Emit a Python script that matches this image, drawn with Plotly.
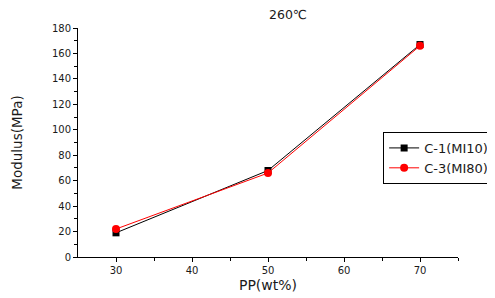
import plotly.graph_objects as go

pp_wt = [30, 50, 70]
c1_mi10 = [19, 68, 167]
c3_mi80 = [22, 66, 166]
series_names = ["C-1(MI10)", "C-3(MI80)"]
title_text = "260℃"

FONT = "DejaVu Sans, Liberation Sans, Arial"
TXT = "#1a1a1a"

fig = go.Figure()
fig.add_trace(go.Scatter(x=pp_wt, y=c1_mi10, mode="lines+markers", name=series_names[0],
                         line=dict(color="black", width=1),
                         marker=dict(symbol="square", size=7, color="black")))
fig.add_trace(go.Scatter(x=pp_wt, y=c3_mi80, mode="lines+markers", name=series_names[1],
                         line=dict(color="red", width=1),
                         marker=dict(symbol="circle", size=8, color="red")))

axis_common = dict(showline=True, linecolor="black", linewidth=1, ticks="outside",
                   ticklen=4, tickcolor="black", showgrid=False, zeroline=False,
                   tickfont=dict(family=FONT, size=10, color=TXT))
fig.update_xaxes(range=[25, 75], tickvals=[30, 40, 50, 60, 70],
                 minor=dict(tickvals=[35, 45, 55, 65, 75], ticks="outside", ticklen=3, tickcolor="black"),
                 title=dict(text="PP(wt%)", font=dict(family=FONT, size=14, color=TXT), standoff=5),
                 **axis_common)
fig.update_yaxes(range=[0, 180], tickvals=list(range(0, 181, 20)),
                 minor=dict(tickvals=list(range(10, 180, 20)), ticks="outside", ticklen=3, tickcolor="black"),
                 title=dict(text="Modulus(MPa)", font=dict(family=FONT, size=13.5, color=TXT), standoff=26),
                 **axis_common)

# page body has an 8px margin: figure is drawn 8px right/down in the window
W, H = 487, 290
L, T, R, B = 70, 20, 37, 41
fig.update_layout(
    width=W, height=H,
    margin=dict(l=L, r=R, t=T, b=B, autoexpand=False),
    plot_bgcolor="white", paper_bgcolor="white",
    showlegend=True,
    legend=dict(x=0.803, y=0.546, xanchor="left", yanchor="top",
                bordercolor="black", borderwidth=1, bgcolor="white",
                font=dict(family=FONT, size=13, color=TXT),
                tracegroupgap=0),
    annotations=[dict(text=title_text, xref="paper", yref="paper", showarrow=False,
                      x=(280 - L) / (W - L - R), y=(H - B - 7) / (H - T - B),
                      xanchor="center", yanchor="middle",
                      font=dict(family=FONT, size=12.5, color=TXT))],
)

fig.write_html("out.html")
